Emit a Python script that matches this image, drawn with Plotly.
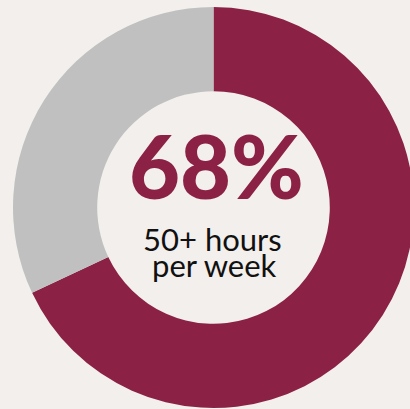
import plotly.graph_objects as go

# Share of respondents by weekly hours
labels = ["50+ hours per week", "Under 50 hours"]
values = [68, 32]
colors = ["#8b2246", "#c0c0c0"]

headline = "68%"
caption_lines = ["50+ hours", "per week"]

W, H = 427, 409
BG = "#f2efec"

fig = go.Figure(
    go.Pie(
        labels=labels,
        values=values,
        hole=0.58,
        sort=False,
        direction="clockwise",
        rotation=0,
        marker=dict(colors=colors, line=dict(width=0)),
        textinfo="none",
        hoverinfo="label+percent",
        domain=dict(x=[13 / W, 414 / W], y=[1 - 408 / H, 1 - 7 / H]),
        showlegend=False,
    )
)

def px(x):
    return x / W

def py(y):
    return 1 - y / H

fig.add_annotation(
    x=px(216), y=py(165), xref="paper", yref="paper",
    text=headline, showarrow=False, xanchor="center", yanchor="middle",
    font=dict(family="Lato", size=88, color=colors[0], weight=900),
)
for (cx, cy), line in zip([(212.5, 239), (214, 265)], caption_lines):
    fig.add_annotation(
        x=px(cx), y=py(cy), xref="paper", yref="paper",
        text=line, showarrow=False, xanchor="center", yanchor="middle",
        font=dict(family="Lato", size=31, color="#111111"),
    )

fig.update_layout(
    width=W,
    height=H,
    margin=dict(l=0, r=0, t=0, b=0, pad=0),
    paper_bgcolor=BG,
    plot_bgcolor=BG,
)

fig.write_html(
    "out.html",
    config={"displayModeBar": False},
    post_script=f"document.body.style.margin='0';document.body.style.overflow='hidden';document.body.style.background='{BG}';",
)
